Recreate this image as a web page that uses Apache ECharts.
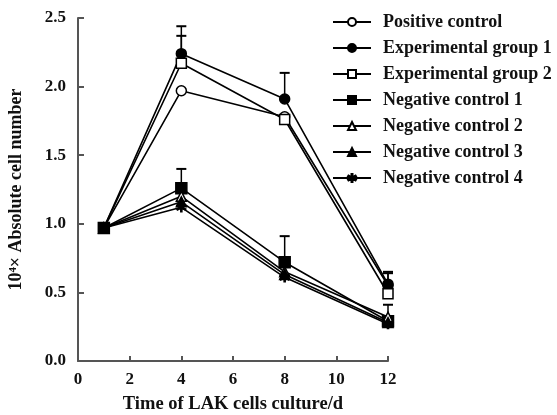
<!DOCTYPE html>
<html>
<head>
<meta charset="utf-8">
<script src="https://cdn.jsdelivr.net/npm/echarts@6/dist/echarts.min.js"></script>
<style>html,body{margin:0;padding:0;background:#fff;}#c{width:557px;height:415px;}</style>
</head>
<body>
<div id="c"></div>
<script>
var days = [1, 4, 8, 12];
var positiveControl = [0.97, 1.97, 1.78, 0.55];
var expGroup1 = [0.97, 2.24, 1.91, 0.56];
var expGroup2 = [0.97, 2.17, 1.76, 0.49];
var negControl1 = [0.97, 1.26, 0.72, 0.29];
var negControl2 = [0.97, 1.20, 0.65, 0.32];
var negControl3 = [0.97, 1.16, 0.63, 0.28];
var negControl4 = [0.97, 1.12, 0.61, 0.27];
// upper error (SD) values
var expGroup1Err = [0, 0.20, 0.19, 0.09];
var expGroup2Err = [0, 0.20, 0, 0.15];
var negControl1Err = [0, 0.14, 0.19, 0.12];
var xTicks = [0, 2, 4, 6, 8, 10, 12];
var yTicks = [0.0, 0.5, 1.0, 1.5, 2.0, 2.5];

var names = ['Positive control', 'Experimental group 1', 'Experimental group 2',
  'Negative control 1', 'Negative control 2', 'Negative control 3', 'Negative control 4'];
var values = [positiveControl, expGroup1, expGroup2, negControl1, negControl2, negControl3, negControl4];
var asterisk = 'path://M4.5,0 L5.5,0 L5.5,3.6 L8.6,1.8 L9.1,2.7 L6,4.5 L9.1,6.3 L8.6,7.2 L5.5,5.4 L5.5,9 L4.5,9 L4.5,5.4 L1.4,7.2 L0.9,6.3 L4,4.5 L0.9,2.7 L1.4,1.8 L4.5,3.6 Z';
var symbols = [
  {s: 'circle', fill: '#fff', size: 10},
  {s: 'circle', fill: '#000', size: 10},
  {s: 'rect', fill: '#fff', size: 10},
  {s: 'rect', fill: '#000', size: 11},
  {s: 'triangle', fill: '#fff', size: 10},
  {s: 'triangle', fill: '#000', size: 10},
  {s: asterisk, fill: '#000', size: 9}
];

var series = [];
var errData = [];
function addErr(vals, errs) {
  for (var i = 0; i < days.length; i++) {
    if (errs[i] > 0) errData.push([days[i], vals[i] + errs[i], vals[i]]);
  }
}
addErr(expGroup1, expGroup1Err);
addErr(expGroup2, expGroup2Err);
addErr(negControl1, negControl1Err);

series.push({
  type: 'custom',
  name: 'err',
  silent: true,
  z: 1,
  data: errData,
  renderItem: function (params, api) {
    var top = api.coord([api.value(0), api.value(1)]);
    var base = api.coord([api.value(0), api.value(2)]);
    var w = 5;
    return {
      type: 'group',
      children: [
        {type: 'line', shape: {x1: top[0], y1: top[1], x2: base[0], y2: base[1]}, style: {stroke: '#000', lineWidth: 1.5}},
        {type: 'line', shape: {x1: top[0] - w, y1: top[1], x2: top[0] + w, y2: top[1]}, style: {stroke: '#000', lineWidth: 2}}
      ]
    };
  }
});

for (var k = 0; k < names.length; k++) {
  var d = [];
  for (var i = 0; i < days.length; i++) d.push([days[i], values[k][i]]);
  series.push({
    type: 'line',
    name: names[k],
    data: d,
    symbol: symbols[k].s,
    symbolSize: symbols[k].size,
    showAllSymbol: true,
    z: 3 + k,
    lineStyle: {color: '#000', width: 1.6},
    itemStyle: {color: symbols[k].fill, borderColor: '#000', borderWidth: 1.5},
    emphasis: {disabled: true}
  });
}

var font = '"Liberation Serif", "Times New Roman", serif';
var chart = echarts.init(document.getElementById('c'), null, {renderer: 'canvas'});
chart.setOption({
  animation: false,
  backgroundColor: '#fff',
  grid: {left: 78, right: 169, top: 18, bottom: 54, containLabel: false, outerBoundsMode: 'none'},
  legend: {
    data: names,
    orient: 'vertical',
    left: 327,
    top: 8,
    itemWidth: 38,
    itemHeight: 10,
    itemGap: 8,
    textStyle: {fontFamily: font, fontWeight: 'bold', fontSize: 18, color: '#111', padding: [0, 0, 0, 7]},
    inactiveColor: '#000'
  },
  xAxis: {
    type: 'value',
    min: 0, max: 12, interval: 2,
    name: 'Time of LAK cells culture/d',
    nameLocation: 'middle',
    nameGap: 34,
    nameTextStyle: {fontFamily: font, fontWeight: 'bold', fontSize: 18.5, color: '#111'},
    axisLine: {show: true, lineStyle: {color: '#555', width: 2}},
    axisTick: {show: true, inside: true, length: 5, lineStyle: {color: '#555', width: 2}},
    axisLabel: {fontFamily: font, fontWeight: 'bold', fontSize: 17, color: '#111', margin: 10,
      formatter: function (v) { return xTicks.indexOf(v) >= 0 ? String(v) : ''; }},
    splitLine: {show: false}
  },
  yAxis: {
    type: 'value',
    min: 0, max: 2.5, interval: 0.5,
    name: '10\u2074\u00D7 Absolute cell number',
    nameLocation: 'middle',
    nameGap: 53,
    nameTextStyle: {fontFamily: font, fontWeight: 'bold', fontSize: 18, color: '#111'},
    axisLine: {show: true, lineStyle: {color: '#555', width: 2}},
    axisTick: {show: true, inside: true, length: 6, lineStyle: {color: '#555', width: 2}},
    axisLabel: {fontFamily: font, fontWeight: 'bold', fontSize: 17, color: '#111', margin: 12,
      formatter: function (v) { return v.toFixed(1); }},
    splitLine: {show: false}
  },
  series: series
});
</script>
</body>
</html>
